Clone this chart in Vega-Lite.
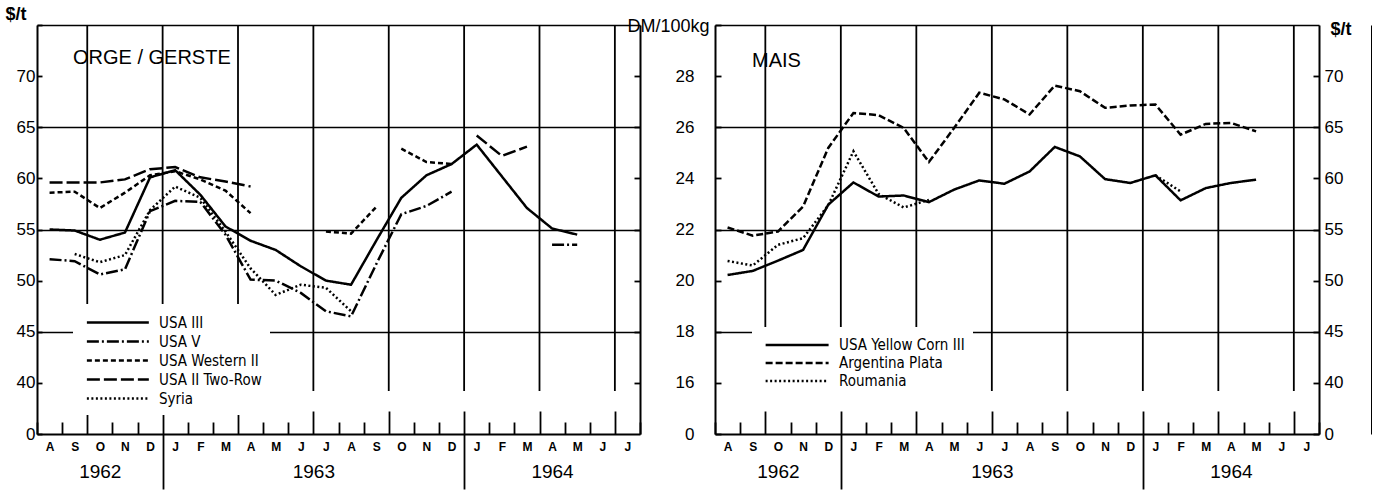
{
  "$schema": "https://vega.github.io/schema/vega-lite/v6.json",
  "background": "white",
  "padding": {"left": 5, "top": 5, "right": 0, "bottom": 0},
  "autosize": {"type": "pad"},
  "config": {
    "view": {"stroke": null},
    "font": "Liberation Sans",
    "axis": {"domainColor": "black", "tickColor": "black", "gridColor": "black", "labelColor": "black", "titleColor": "black", "labelFont": "Liberation Sans", "titleFont": "Liberation Sans"}
  },
  "datasets": {
    "barley": [
      {"s": "USA III", "g": 1, "mo": 0, "p": 55.0}, {"s": "USA III", "g": 1, "mo": 1, "p": 54.9}, {"s": "USA III", "g": 1, "mo": 2, "p": 54.0}, {"s": "USA III", "g": 1, "mo": 3, "p": 54.7}, {"s": "USA III", "g": 1, "mo": 4, "p": 60.1}, {"s": "USA III", "g": 1, "mo": 5, "p": 60.8}, {"s": "USA III", "g": 1, "mo": 6, "p": 58.4}, {"s": "USA III", "g": 1, "mo": 7, "p": 55.3}, {"s": "USA III", "g": 1, "mo": 8, "p": 53.9}, {"s": "USA III", "g": 1, "mo": 9, "p": 53.0}, {"s": "USA III", "g": 1, "mo": 10, "p": 51.4}, {"s": "USA III", "g": 1, "mo": 11, "p": 50.0}, {"s": "USA III", "g": 1, "mo": 12, "p": 49.6}, {"s": "USA III", "g": 1, "mo": 13, "p": 53.9}, {"s": "USA III", "g": 1, "mo": 14, "p": 58.1}, {"s": "USA III", "g": 1, "mo": 15, "p": 60.3}, {"s": "USA III", "g": 1, "mo": 16, "p": 61.4}, {"s": "USA III", "g": 1, "mo": 17, "p": 63.3}, {"s": "USA III", "g": 1, "mo": 18, "p": 60.2}, {"s": "USA III", "g": 1, "mo": 19, "p": 57.1}, {"s": "USA III", "g": 1, "mo": 20, "p": 55.1}, {"s": "USA III", "g": 1, "mo": 21, "p": 54.5},
      {"s": "USA V", "g": 1, "mo": 0, "p": 52.1}, {"s": "USA V", "g": 1, "mo": 1, "p": 51.9}, {"s": "USA V", "g": 1, "mo": 2, "p": 50.6}, {"s": "USA V", "g": 1, "mo": 3, "p": 51.1}, {"s": "USA V", "g": 1, "mo": 4, "p": 56.8}, {"s": "USA V", "g": 1, "mo": 5, "p": 57.8}, {"s": "USA V", "g": 1, "mo": 6, "p": 57.7}, {"s": "USA V", "g": 1, "mo": 7, "p": 54.5}, {"s": "USA V", "g": 1, "mo": 8, "p": 50.1}, {"s": "USA V", "g": 1, "mo": 9, "p": 50.0}, {"s": "USA V", "g": 1, "mo": 10, "p": 48.8}, {"s": "USA V", "g": 1, "mo": 11, "p": 47.0}, {"s": "USA V", "g": 1, "mo": 12, "p": 46.5}, {"s": "USA V", "g": 1, "mo": 13, "p": 51.6}, {"s": "USA V", "g": 1, "mo": 14, "p": 56.5}, {"s": "USA V", "g": 1, "mo": 15, "p": 57.3}, {"s": "USA V", "g": 1, "mo": 16, "p": 58.7},
      {"s": "USA V", "g": 2, "mo": 20, "p": 53.5}, {"s": "USA V", "g": 2, "mo": 21, "p": 53.5},
      {"s": "USA Western II", "g": 1, "mo": 0, "p": 58.6}, {"s": "USA Western II", "g": 1, "mo": 1, "p": 58.7}, {"s": "USA Western II", "g": 1, "mo": 2, "p": 57.1}, {"s": "USA Western II", "g": 1, "mo": 3, "p": 58.6}, {"s": "USA Western II", "g": 1, "mo": 4, "p": 60.3}, {"s": "USA Western II", "g": 1, "mo": 5, "p": 60.7}, {"s": "USA Western II", "g": 1, "mo": 6, "p": 59.9}, {"s": "USA Western II", "g": 1, "mo": 7, "p": 58.8}, {"s": "USA Western II", "g": 1, "mo": 8, "p": 56.6},
      {"s": "USA Western II", "g": 2, "mo": 11, "p": 54.8}, {"s": "USA Western II", "g": 2, "mo": 12, "p": 54.6}, {"s": "USA Western II", "g": 2, "mo": 13, "p": 57.2},
      {"s": "USA Western II", "g": 3, "mo": 14, "p": 62.9}, {"s": "USA Western II", "g": 3, "mo": 15, "p": 61.6}, {"s": "USA Western II", "g": 3, "mo": 16, "p": 61.4},
      {"s": "USA II Two-Row", "g": 1, "mo": 0, "p": 59.6}, {"s": "USA II Two-Row", "g": 1, "mo": 1, "p": 59.6}, {"s": "USA II Two-Row", "g": 1, "mo": 2, "p": 59.6}, {"s": "USA II Two-Row", "g": 1, "mo": 3, "p": 59.9}, {"s": "USA II Two-Row", "g": 1, "mo": 4, "p": 60.9}, {"s": "USA II Two-Row", "g": 1, "mo": 5, "p": 61.1}, {"s": "USA II Two-Row", "g": 1, "mo": 6, "p": 60.1}, {"s": "USA II Two-Row", "g": 1, "mo": 7, "p": 59.7}, {"s": "USA II Two-Row", "g": 1, "mo": 8, "p": 59.2},
      {"s": "USA II Two-Row", "g": 2, "mo": 17, "p": 64.2}, {"s": "USA II Two-Row", "g": 2, "mo": 18, "p": 62.2}, {"s": "USA II Two-Row", "g": 2, "mo": 19, "p": 63.1},
      {"s": "Syria", "g": 1, "mo": 1, "p": 52.6}, {"s": "Syria", "g": 1, "mo": 2, "p": 51.8}, {"s": "Syria", "g": 1, "mo": 3, "p": 52.5}, {"s": "Syria", "g": 1, "mo": 4, "p": 56.9}, {"s": "Syria", "g": 1, "mo": 5, "p": 59.2}, {"s": "Syria", "g": 1, "mo": 6, "p": 58.1}, {"s": "Syria", "g": 1, "mo": 7, "p": 54.8}, {"s": "Syria", "g": 1, "mo": 8, "p": 51.2}, {"s": "Syria", "g": 1, "mo": 9, "p": 48.6}, {"s": "Syria", "g": 1, "mo": 10, "p": 49.6}, {"s": "Syria", "g": 1, "mo": 11, "p": 49.3}, {"s": "Syria", "g": 1, "mo": 12, "p": 47.0}
    ],
    "maize": [
      {"s": "USA Yellow Corn III", "g": 1, "mo": 0, "p": 20.22}, {"s": "USA Yellow Corn III", "g": 1, "mo": 1, "p": 20.38}, {"s": "USA Yellow Corn III", "g": 1, "mo": 2, "p": 20.78}, {"s": "USA Yellow Corn III", "g": 1, "mo": 3, "p": 21.2}, {"s": "USA Yellow Corn III", "g": 1, "mo": 4, "p": 22.97}, {"s": "USA Yellow Corn III", "g": 1, "mo": 5, "p": 23.84}, {"s": "USA Yellow Corn III", "g": 1, "mo": 6, "p": 23.29}, {"s": "USA Yellow Corn III", "g": 1, "mo": 7, "p": 23.33}, {"s": "USA Yellow Corn III", "g": 1, "mo": 8, "p": 23.07}, {"s": "USA Yellow Corn III", "g": 1, "mo": 9, "p": 23.56}, {"s": "USA Yellow Corn III", "g": 1, "mo": 10, "p": 23.92}, {"s": "USA Yellow Corn III", "g": 1, "mo": 11, "p": 23.79}, {"s": "USA Yellow Corn III", "g": 1, "mo": 12, "p": 24.27}, {"s": "USA Yellow Corn III", "g": 1, "mo": 13, "p": 25.23}, {"s": "USA Yellow Corn III", "g": 1, "mo": 14, "p": 24.86}, {"s": "USA Yellow Corn III", "g": 1, "mo": 15, "p": 23.97}, {"s": "USA Yellow Corn III", "g": 1, "mo": 16, "p": 23.82}, {"s": "USA Yellow Corn III", "g": 1, "mo": 17, "p": 24.12}, {"s": "USA Yellow Corn III", "g": 1, "mo": 18, "p": 23.14}, {"s": "USA Yellow Corn III", "g": 1, "mo": 19, "p": 23.62}, {"s": "USA Yellow Corn III", "g": 1, "mo": 20, "p": 23.82}, {"s": "USA Yellow Corn III", "g": 1, "mo": 21, "p": 23.95},
      {"s": "Argentina Plata", "g": 1, "mo": 0, "p": 22.08}, {"s": "Argentina Plata", "g": 1, "mo": 1, "p": 21.76}, {"s": "Argentina Plata", "g": 1, "mo": 2, "p": 21.92}, {"s": "Argentina Plata", "g": 1, "mo": 3, "p": 22.9}, {"s": "Argentina Plata", "g": 1, "mo": 4, "p": 25.19}, {"s": "Argentina Plata", "g": 1, "mo": 5, "p": 26.56}, {"s": "Argentina Plata", "g": 1, "mo": 6, "p": 26.47}, {"s": "Argentina Plata", "g": 1, "mo": 7, "p": 25.97}, {"s": "Argentina Plata", "g": 1, "mo": 8, "p": 24.64}, {"s": "Argentina Plata", "g": 1, "mo": 9, "p": 25.97}, {"s": "Argentina Plata", "g": 1, "mo": 10, "p": 27.35}, {"s": "Argentina Plata", "g": 1, "mo": 11, "p": 27.09}, {"s": "Argentina Plata", "g": 1, "mo": 12, "p": 26.5}, {"s": "Argentina Plata", "g": 1, "mo": 13, "p": 27.63}, {"s": "Argentina Plata", "g": 1, "mo": 14, "p": 27.41}, {"s": "Argentina Plata", "g": 1, "mo": 15, "p": 26.76}, {"s": "Argentina Plata", "g": 1, "mo": 16, "p": 26.85}, {"s": "Argentina Plata", "g": 1, "mo": 17, "p": 26.89}, {"s": "Argentina Plata", "g": 1, "mo": 18, "p": 25.71}, {"s": "Argentina Plata", "g": 1, "mo": 19, "p": 26.13}, {"s": "Argentina Plata", "g": 1, "mo": 20, "p": 26.17}, {"s": "Argentina Plata", "g": 1, "mo": 21, "p": 25.84},
      {"s": "Roumania", "g": 1, "mo": 0, "p": 20.77}, {"s": "Roumania", "g": 1, "mo": 1, "p": 20.59}, {"s": "Roumania", "g": 1, "mo": 2, "p": 21.4}, {"s": "Roumania", "g": 1, "mo": 3, "p": 21.66}, {"s": "Roumania", "g": 1, "mo": 4, "p": 22.95}, {"s": "Roumania", "g": 1, "mo": 5, "p": 25.06}, {"s": "Roumania", "g": 1, "mo": 6, "p": 23.39}, {"s": "Roumania", "g": 1, "mo": 7, "p": 22.86}, {"s": "Roumania", "g": 1, "mo": 8, "p": 23.16},
      {"s": "Roumania", "g": 2, "mo": 17, "p": 24.12}, {"s": "Roumania", "g": 2, "mo": 18, "p": 23.49}
    ],
    "quarters": [{"b": 1.5}, {"b": 4.5}, {"b": 7.5}, {"b": 10.5}, {"b": 13.5}, {"b": 16.5}, {"b": 19.5}, {"b": 22.5}]
  },
  "spacing": 75,
  "bounds": "flush",
  "resolve": {"scale": {"strokeDash": "independent"}, "legend": {"strokeDash": "independent"}},
  "hconcat": [
    {
      "width": 603,
      "height": 409,
      "resolve": {"axis": {"x": "independent", "y": "independent"}},
      "layer": [
        {
          "data": {"name": "quarters"},
          "mark": {"type": "rule", "color": "black", "strokeWidth": 1.8},
          "encoding": {
            "x": {"field": "b", "type": "quantitative", "scale": {"domain": [-0.5, 23.5], "nice": false, "zero": false},
              "axis": {"orient": "bottom", "values": [-0.5, 0.5, 1.5, 2.5, 3.5, 4.5, 5.5, 6.5, 7.5, 8.5, 9.5, 10.5, 11.5, 12.5, 13.5, 14.5, 15.5, 16.5, 17.5, 18.5, 19.5, 20.5, 21.5, 22.5, 23.5],
                "labels": false, "domain": false, "grid": false, "ticks": true, "tickWidth": 1.8,
                "tickSize": {"condition": {"test": "(datum.value + 0.5) % 3 == 2", "value": -23}, "value": -12}, "title": null}},
            "y": {"datum": 39.2, "type": "quantitative", "scale": {"domain": [35, 75], "nice": false, "zero": false},
              "axis": {"orient": "right", "values": [40, 45, 50, 55, 60, 65, 70], "labels": false, "grid": false, "tickSize": -6, "tickWidth": 1.8, "domainWidth": 2, "title": null}},
            "y2": {"datum": 75}
          }
        },
        {
          "data": {"name": "barley"},
          "mark": {"type": "line", "color": "black", "strokeWidth": 2.5},
          "encoding": {
            "x": {"field": "mo", "type": "quantitative",
              "axis": {"orient": "bottom", "values": [0, 1, 2, 3, 4, 5, 6, 7, 8, 9, 10, 11, 12, 13, 14, 15, 16, 17, 18, 19, 20, 21, 22, 23],
                "labelExpr": "['A','S','O','N','D','J','F','M','A','M','J','J'][datum.value % 12]",
                "ticks": false, "grid": false, "domainWidth": 2, "labelFontSize": 12, "labelFontWeight": "bold", "labelPadding": 7,
                "labelFlush": false, "labelOverlap": false, "labelBound": false, "title": null}},
            "y": {"field": "p", "type": "quantitative",
              "axis": {"orient": "left", "values": [35, 40, 45, 50, 55, 60, 65, 70, 75],
                "labelExpr": "datum.value == 35 ? '0' : datum.value == 75 ? '' : datum.label",
                "tickSize": -5, "tickWidth": 1.8, "domainWidth": 2, "labelFontSize": 17, "labelPadding": 7,
                "grid": true, "gridWidth": 1.6,
                "gridOpacity": {"condition": {"test": "datum.value == 45 || datum.value == 55 || datum.value == 65 || datum.value == 75", "value": 1}, "value": 0},
                "title": "$/t", "titleAngle": 0, "titleAlign": "left", "titleBaseline": "alphabetic", "titleX": -32, "titleY": -6, "titleFontSize": 18, "titleFontWeight": "bold"}},
            "strokeDash": {"field": "s", "type": "nominal",
              "scale": {"domain": ["USA III", "USA V", "USA Western II", "USA II Two-Row", "Syria"],
                "range": [[1, 0], [12, 3, 2, 3], [5, 3], [13, 4], [2, 2.5]]},
              "legend": {"orient": "none", "legendX": 36, "legendY": 279, "title": null, "fillColor": "white", "padding": 8,
                "symbolType": "M-0.5,0H6.2", "symbolSize": 342, "symbolStrokeWidth": 2.5, "symbolStrokeColor": "black", "symbolFillColor": "transparent",
                "rowPadding": 0,
                "labelFontSize": 15, "labelFont": "Liberation Sans Narrow, DejaVu Sans Condensed, Liberation Sans", "labelColor": "black", "labelLimit": 300, "labelOffset": 57}},
            "detail": {"field": "g"}
          }
        },
        {
          "data": {"values": [{"name": "ORGE / GERSTE"}]},
          "mark": {"type": "text", "align": "left", "baseline": "middle", "fontSize": 20, "font": "Liberation Sans", "color": "black"},
          "encoding": {
            "text": {"field": "name"},
            "x": {"datum": 0.93, "type": "quantitative",
              "axis": {"orient": "bottom", "values": [2, 4.5, 10.5, 16.5, 20],
                "labelExpr": "datum.value == 2 ? '1962' : datum.value == 10.5 ? '1963' : datum.value == 20 ? '1964' : ''",
                "domain": false, "grid": false, "ticks": true, "tickSize": 55, "tickWidth": 1.8,
                "tickOpacity": {"condition": {"test": "datum.value == 4.5 || datum.value == 16.5", "value": 1}, "value": 0},
                "labelFontSize": 19, "labelPadding": -27, "labelBaseline": "top", "labelFlush": false, "labelOverlap": false, "title": null}},
            "y": {"datum": 71.8, "type": "quantitative", "axis": null}
          }
        }
      ]
    },
    {
      "width": 604,
      "height": 409,
      "resolve": {"axis": {"x": "independent", "y": "independent"}},
      "layer": [
        {
          "data": {"name": "quarters"},
          "mark": {"type": "rule", "color": "black", "strokeWidth": 1.8},
          "encoding": {
            "x": {"field": "b", "type": "quantitative", "scale": {"domain": [-0.5, 23.5], "nice": false, "zero": false},
              "axis": {"orient": "bottom", "values": [-0.5, 0.5, 1.5, 2.5, 3.5, 4.5, 5.5, 6.5, 7.5, 8.5, 9.5, 10.5, 11.5, 12.5, 13.5, 14.5, 15.5, 16.5, 17.5, 18.5, 19.5, 20.5, 21.5, 22.5, 23.5],
                "labels": false, "domain": false, "grid": false, "ticks": true, "tickWidth": 1.8,
                "tickSize": {"condition": {"test": "(datum.value + 0.5) % 3 == 2", "value": -23}, "value": -12}, "title": null}},
            "y": {"datum": 15.68, "type": "quantitative", "scale": {"domain": [14, 30], "nice": false, "zero": false},
              "axis": {"orient": "right", "values": [14, 16, 18, 20, 22, 24, 26, 28],
                "labelExpr": "datum.value == 14 ? '0' : format(datum.value * 2.5, 'd')",
                "grid": false, "tickSize": -6, "tickWidth": 1.8, "domainWidth": 2, "labelFontSize": 17, "labelPadding": 11,
                "title": "$/t", "titleAngle": 0, "titleAlign": "left", "titleBaseline": "alphabetic", "titleX": 11, "titleY": 9, "titleFontSize": 18, "titleFontWeight": "bold"}},
            "y2": {"datum": 30}
          }
        },
        {
          "data": {"name": "maize"},
          "mark": {"type": "line", "color": "black", "strokeWidth": 2.5},
          "encoding": {
            "x": {"field": "mo", "type": "quantitative",
              "axis": {"orient": "bottom", "values": [0, 1, 2, 3, 4, 5, 6, 7, 8, 9, 10, 11, 12, 13, 14, 15, 16, 17, 18, 19, 20, 21, 22, 23],
                "labelExpr": "['A','S','O','N','D','J','F','M','A','M','J','J'][datum.value % 12]",
                "ticks": false, "grid": false, "domainWidth": 2, "labelFontSize": 12, "labelFontWeight": "bold", "labelPadding": 7,
                "labelFlush": false, "labelOverlap": false, "labelBound": false, "title": null}},
            "y": {"field": "p", "type": "quantitative",
              "axis": {"orient": "left", "values": [14, 16, 18, 20, 22, 24, 26, 28, 30],
                "labelExpr": "datum.value == 14 ? '0' : datum.value == 30 ? '' : datum.label",
                "tickSize": -6, "tickWidth": 1.8, "domainWidth": 2, "labelFontSize": 17, "labelPadding": 27,
                "grid": true, "gridWidth": 1.6,
                "gridOpacity": {"condition": {"test": "datum.value == 18 || datum.value == 22 || datum.value == 26 || datum.value == 30", "value": 1}, "value": 0},
                "title": "DM/100kg", "titleAngle": 0, "titleAlign": "left", "titleBaseline": "alphabetic", "titleX": -88, "titleY": 6, "titleFontSize": 18, "titleFontWeight": "normal"}},
            "strokeDash": {"field": "s", "type": "nominal",
              "scale": {"domain": ["USA Yellow Corn III", "Argentina Plata", "Roumania"],
                "range": [[1, 0], [7, 3], [2, 2.5]]},
              "legend": {"orient": "none", "legendX": 37, "legendY": 302, "title": null, "fillColor": "white", "padding": 8,
                "symbolType": "M-0.5,0H6.7", "symbolSize": 306, "symbolStrokeWidth": 2.5, "symbolStrokeColor": "black", "symbolFillColor": "transparent",
                "rowPadding": 0,
                "labelFontSize": 15, "labelFont": "Liberation Sans Narrow, DejaVu Sans Condensed, Liberation Sans", "labelColor": "black", "labelLimit": 300, "labelOffset": 59}},
            "detail": {"field": "g"}
          }
        },
        {
          "data": {"values": [{"name": "MAIS"}]},
          "mark": {"type": "text", "align": "left", "baseline": "middle", "fontSize": 20, "font": "Liberation Sans", "color": "black"},
          "encoding": {
            "text": {"field": "name"},
            "x": {"datum": 0.97, "type": "quantitative",
              "axis": {"orient": "bottom", "values": [2, 4.5, 10.5, 16.5, 20],
                "labelExpr": "datum.value == 2 ? '1962' : datum.value == 10.5 ? '1963' : datum.value == 20 ? '1964' : ''",
                "domain": false, "grid": false, "ticks": true, "tickSize": 55, "tickWidth": 1.8,
                "tickOpacity": {"condition": {"test": "datum.value == 4.5 || datum.value == 16.5", "value": 1}, "value": 0},
                "labelFontSize": 19, "labelPadding": -27, "labelBaseline": "top", "labelFlush": false, "labelOverlap": false, "title": null}},
            "y": {"datum": 28.6, "type": "quantitative",
              "axis": {"orient": "right", "offset": 53, "domainWidth": 3, "ticks": false, "labels": false, "grid": false, "title": null}}
          }
        }
      ]
    }
  ]
}
